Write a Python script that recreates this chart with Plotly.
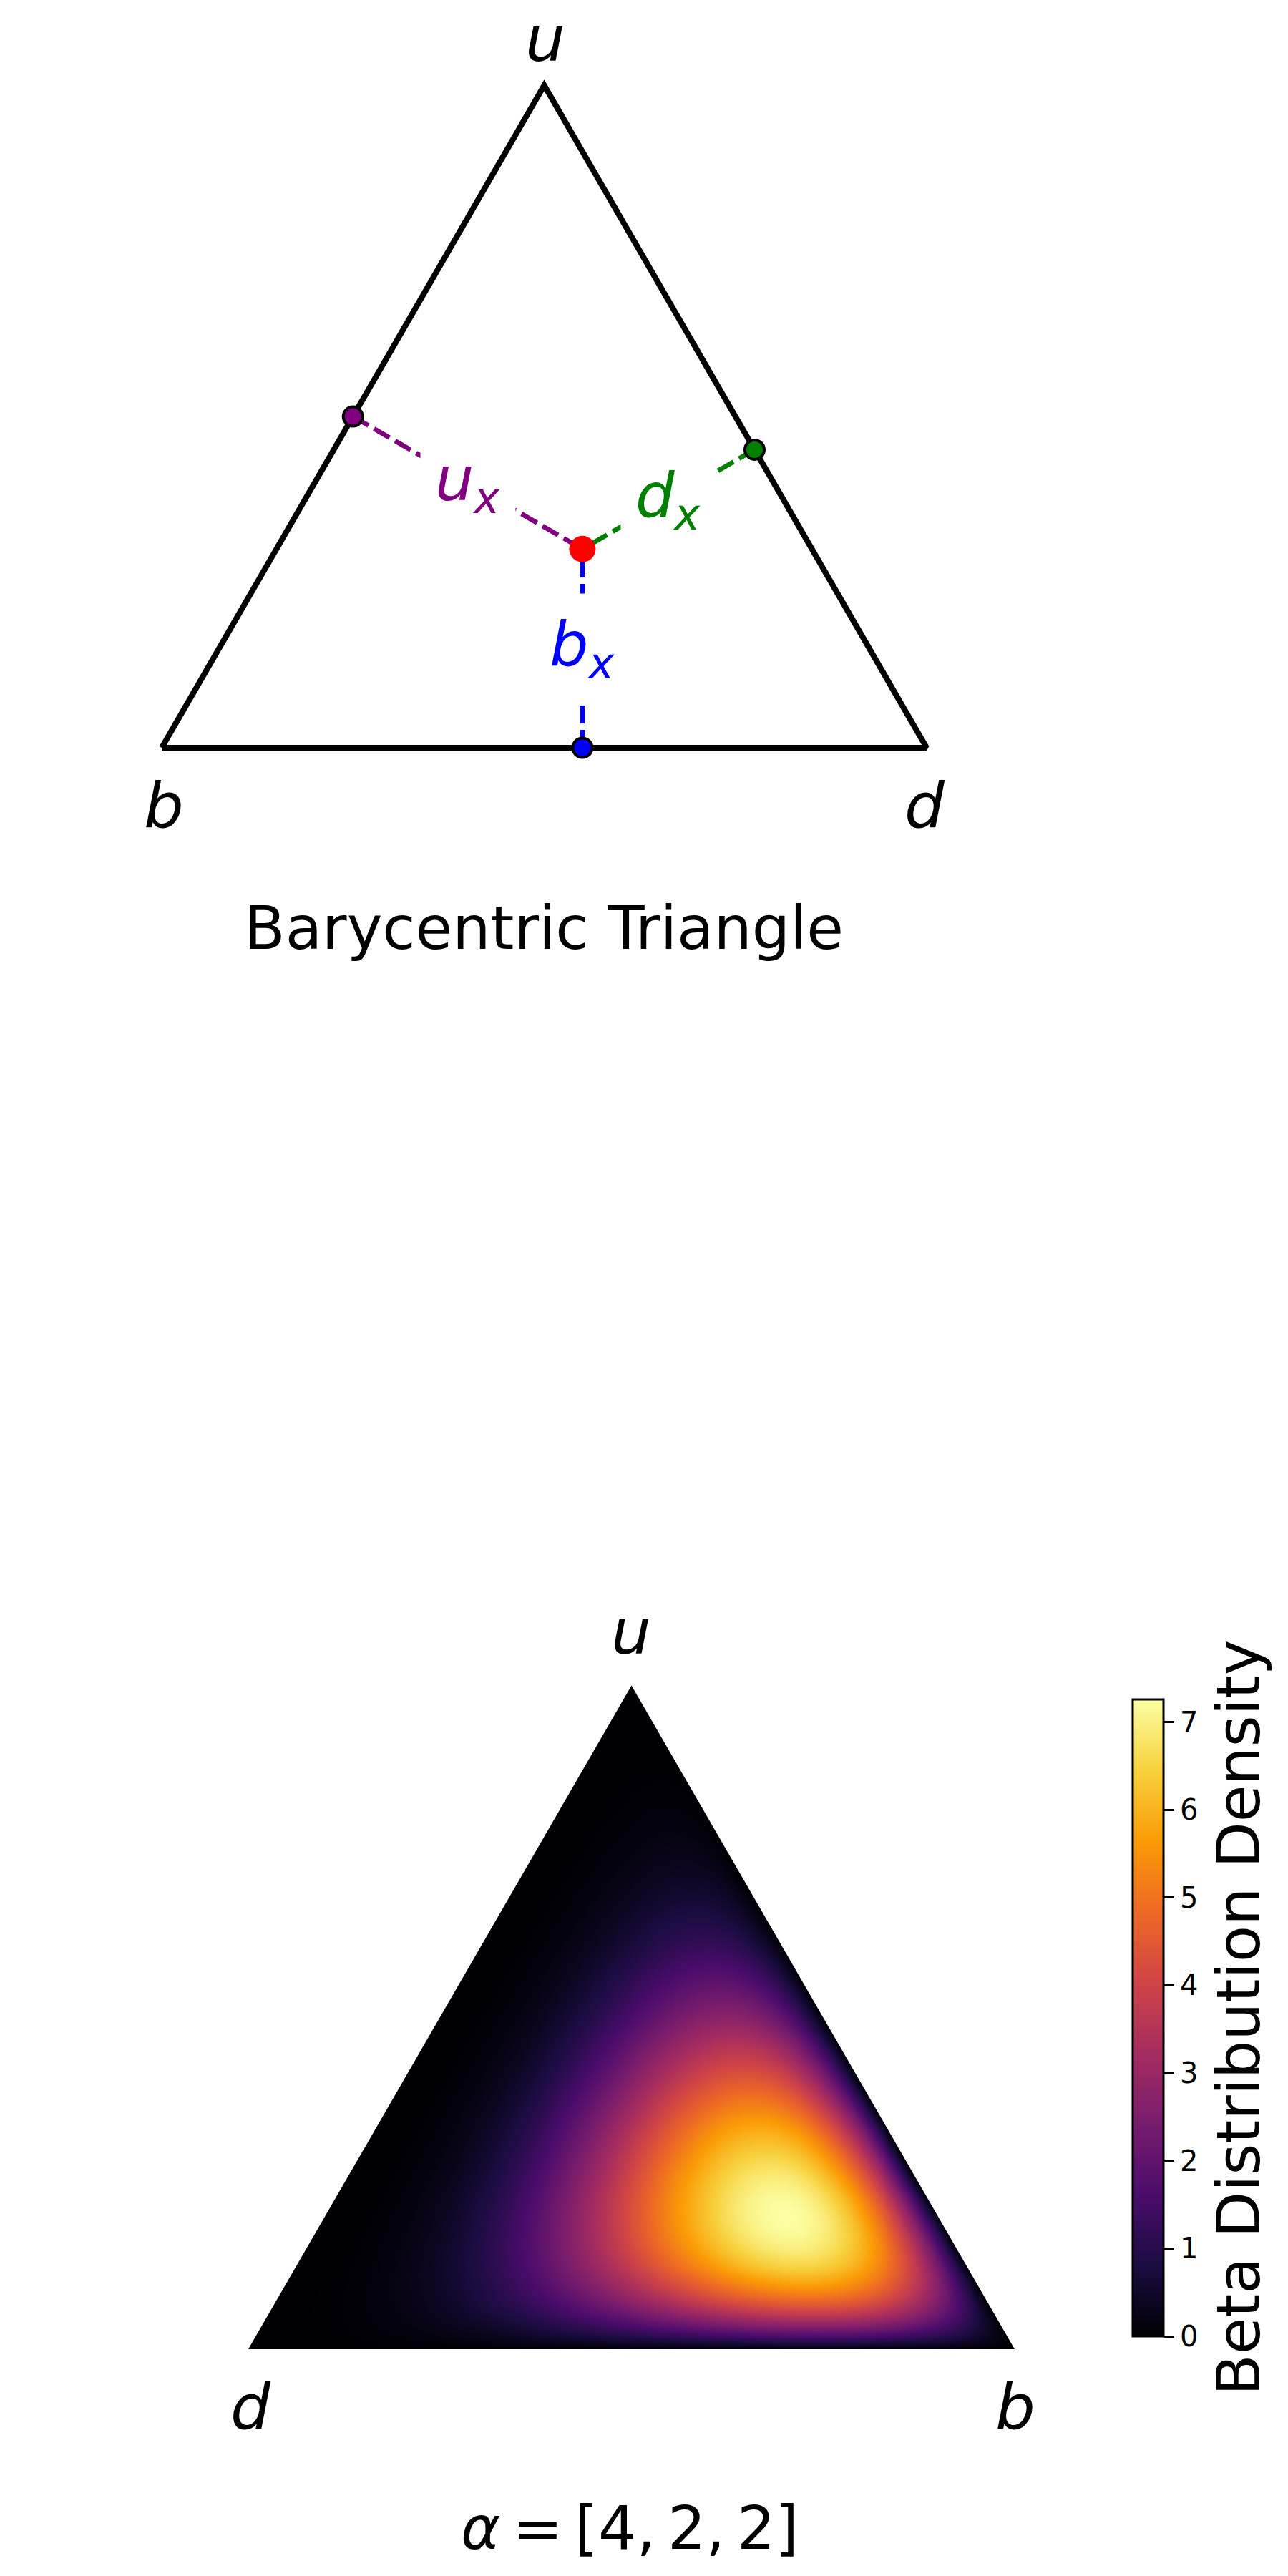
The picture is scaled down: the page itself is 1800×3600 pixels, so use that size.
import math
import numpy as np
import plotly.graph_objects as go

# ---------------- data ----------------
vertex_names = ["b", "d", "u"]            # top triangle corners (left, right, top)
point_bdu = [0.3, 0.4, 0.3]               # barycentric coords (b, d, u) of the red point
edge_labels = ["u", "d", "b"]             # labels of the left, right, bottom distance lines
edge_colors = ["purple", "green", "blue"]
top_title = "Barycentric Triangle"

alpha = [4, 2, 2]                         # Dirichlet parameters for (b, d, u)
bottom_vertex_names = ["d", "b", "u"]     # bottom triangle corners (left, right, top)
cbar_ticks = [0, 1, 2, 3, 4, 5, 6, 7]
cbar_title = "Beta Distribution Density"

# ---------------- layout helpers ----------------
W, H = 1800, 3600
FONT = "DejaVu Sans"
TS = "\u2009"   # thin space (mathtext-like spacing)
h = math.sqrt(3) / 2

def xdom(px0, k, xa, xb):
    return [(px0 + k * xa) / W, (px0 + k * xb) / W]

def ydom(py0, k, ya, yb):
    return [1 - (py0 - k * ya) / H, 1 - (py0 - k * yb) / H]

def pp(px, py):
    return px / W, 1 - py / H

fig = go.Figure()

# ---------------- top: barycentric triangle ----------------
B = np.array([0.0, 0.0]); D = np.array([1.0, 0.0]); U = np.array([0.5, h])
P = point_bdu[0] * B + point_bdu[1] * D + point_bdu[2] * U

def foot(p, a, b):
    v = b - a
    t = np.dot(p - a, v) / np.dot(v, v)
    return a + t * v

feet = [foot(P, B, U), foot(P, D, U), foot(P, B, D)]

tri = np.array([B, D, U, B])
fig.add_trace(go.Scatter(x=tri[:, 0], y=tri[:, 1], mode="lines",
                         line=dict(color="black", width=8), xaxis="x", yaxis="y",
                         hoverinfo="skip", showlegend=False))
for f, c in zip(feet, edge_colors):
    fig.add_trace(go.Scatter(x=[f[0], P[0]], y=[f[1], P[1]], mode="lines",
                             line=dict(color=c, width=6.5, dash="25px,9px"),
                             xaxis="x", yaxis="y", hoverinfo="skip", showlegend=False))
for f, c in zip(feet, edge_colors):
    fig.add_trace(go.Scatter(x=[f[0]], y=[f[1]], mode="markers",
                             marker=dict(color=c, size=27, line=dict(color="black", width=4)),
                             xaxis="x", yaxis="y", hoverinfo="skip", showlegend=False))
fig.add_trace(go.Scatter(x=[P[0]], y=[P[1]], mode="markers",
                         marker=dict(color="red", size=37, line=dict(width=0)),
                         xaxis="x", yaxis="y", hoverinfo="skip", showlegend=False))

annotations = []
for f, c, lab in zip(feet, edge_colors, edge_labels):
    mid = (P + f) / 2
    annotations.append(dict(x=mid[0], y=mid[1], xref="x", yref="y",
                            text=f"<i>{lab}</i><sub><i>x</i></sub>", showarrow=False,
                            font=dict(family=FONT, size=86, color=c),
                            bgcolor="white", borderpad=20,
                            xanchor="center", yanchor="middle"))

for name, (px, py) in zip(vertex_names[:2], [(229, 1125), (1292, 1125)]):
    x, y = pp(px, py)
    annotations.append(dict(x=x, y=y, xref="paper", yref="paper", text=f"<i>{name}</i>",
                            showarrow=False, font=dict(family=FONT, size=88, color="black"),
                            xanchor="center", yanchor="middle"))
x, y = pp(762, 1)
annotations.append(dict(x=x, y=y, xref="paper", yref="paper", text=f"<i>{vertex_names[2]}</i>",
                        showarrow=False, font=dict(family=FONT, size=88, color="black"),
                        xanchor="center", yanchor="top"))
x, y = pp(760, 1297)
annotations.append(dict(x=x, y=y, xref="paper", yref="paper", text=top_title, showarrow=False,
                        font=dict(family=FONT, size=84, color="black"),
                        xanchor="center", yanchor="middle"))

# ---------------- bottom: Dirichlet density ----------------
nx, ny = 541, 469
xs = np.linspace(0, 1, nx)
ys = np.linspace(0, h, ny)
XX, YY = np.meshgrid(xs, ys)
uu = YY / h
bb = XX - uu / 2
dd = 1 - bb - uu
inside = (bb >= 0) & (dd >= 0) & (uu >= 0)
a_b, a_d, a_u = alpha
norm = math.gamma(sum(alpha)) / (math.gamma(a_b) * math.gamma(a_d) * math.gamma(a_u))
dens = norm * np.clip(bb, 0, None) ** (a_b - 1) * np.clip(dd, 0, None) ** (a_d - 1) \
    * np.clip(uu, 0, None) ** (a_u - 1)
dens = np.where(inside, dens, 0.0).astype(np.float32)
zmax = float(dens.max())

cbx, cby = pp(1583, 2820)
fig.add_trace(go.Heatmap(
    x=xs, y=ys, z=dens, colorscale="Inferno", zmin=0, zmax=zmax, zsmooth="best",
    xaxis="x2", yaxis="y2", hoverinfo="skip",
    colorbar=dict(x=cbx, xanchor="left", xpad=0, y=cby, yanchor="middle", ypad=0,
                  len=890, lenmode="pixels", thickness=43, thicknessmode="pixels",
                  outlinewidth=3, outlinecolor="black",
                  tickvals=cbar_ticks, ticks="outside", ticklen=14, tickwidth=3,
                  tickcolor="black",
                  tickfont=dict(family=FONT, size=40, color="black"))))

e = 0.06
mask = (f"M {-e},{-e} L {1+e},{-e} L {1+e},{h+e} L {-e},{h+e} Z "
        f"M 0,0 L 0.5,{h} L 1,0 Z")
shapes = [dict(type="path", path=mask, xref="x2", yref="y2", fillcolor="white",
               line=dict(width=0), layer="above")]

for name, (px, py) in zip(bottom_vertex_names, [(350, 3363), (1419, 3363), (882, 2280)]):
    x, y = pp(px, py)
    annotations.append(dict(x=x, y=y, xref="paper", yref="paper", text=f"<i>{name}</i>",
                            showarrow=False, font=dict(family=FONT, size=88, color="black"),
                            xanchor="center", yanchor="middle"))
x, y = pp(880, 3533)
annotations.append(dict(x=x, y=y, xref="paper", yref="paper",
                        text=f"<i>α</i>{TS}={TS}[" + f",{TS}".join(str(a) for a in alpha) + "]",
                        showarrow=False, font=dict(family=FONT, size=84, color="black"),
                        xanchor="center", yanchor="middle"))
x, y = pp(1731, 2820)
annotations.append(dict(x=x, y=y, xref="paper", yref="paper", text=cbar_title,
                        textangle=-90, showarrow=False,
                        font=dict(family=FONT, size=84, color="black"),
                        xanchor="center", yanchor="middle"))

ax_common = dict(visible=False, showgrid=False, zeroline=False, fixedrange=True)
fig.update_layout(
    width=W, height=H, margin=dict(l=0, r=0, t=0, b=0),
    paper_bgcolor="white", plot_bgcolor="white", showlegend=False,
    xaxis=dict(domain=xdom(226, 1069, -0.2, 1.4), range=[-0.2, 1.4], anchor="y", **ax_common),
    yaxis=dict(domain=ydom(1045, 1069, -0.35, 0.95), range=[-0.35, 0.95], anchor="x", **ax_common),
    xaxis2=dict(domain=xdom(347, 1071, -0.3, 1.35), range=[-0.3, 1.35], anchor="y2", **ax_common),
    yaxis2=dict(domain=ydom(3283, 1071, -0.28, 0.98), range=[-0.28, 0.98], anchor="x2", **ax_common),
    annotations=annotations, shapes=shapes,
)

fig.write_html("out.html", config={"displayModeBar": False},
               post_script="document.body.style.margin='0px';")
